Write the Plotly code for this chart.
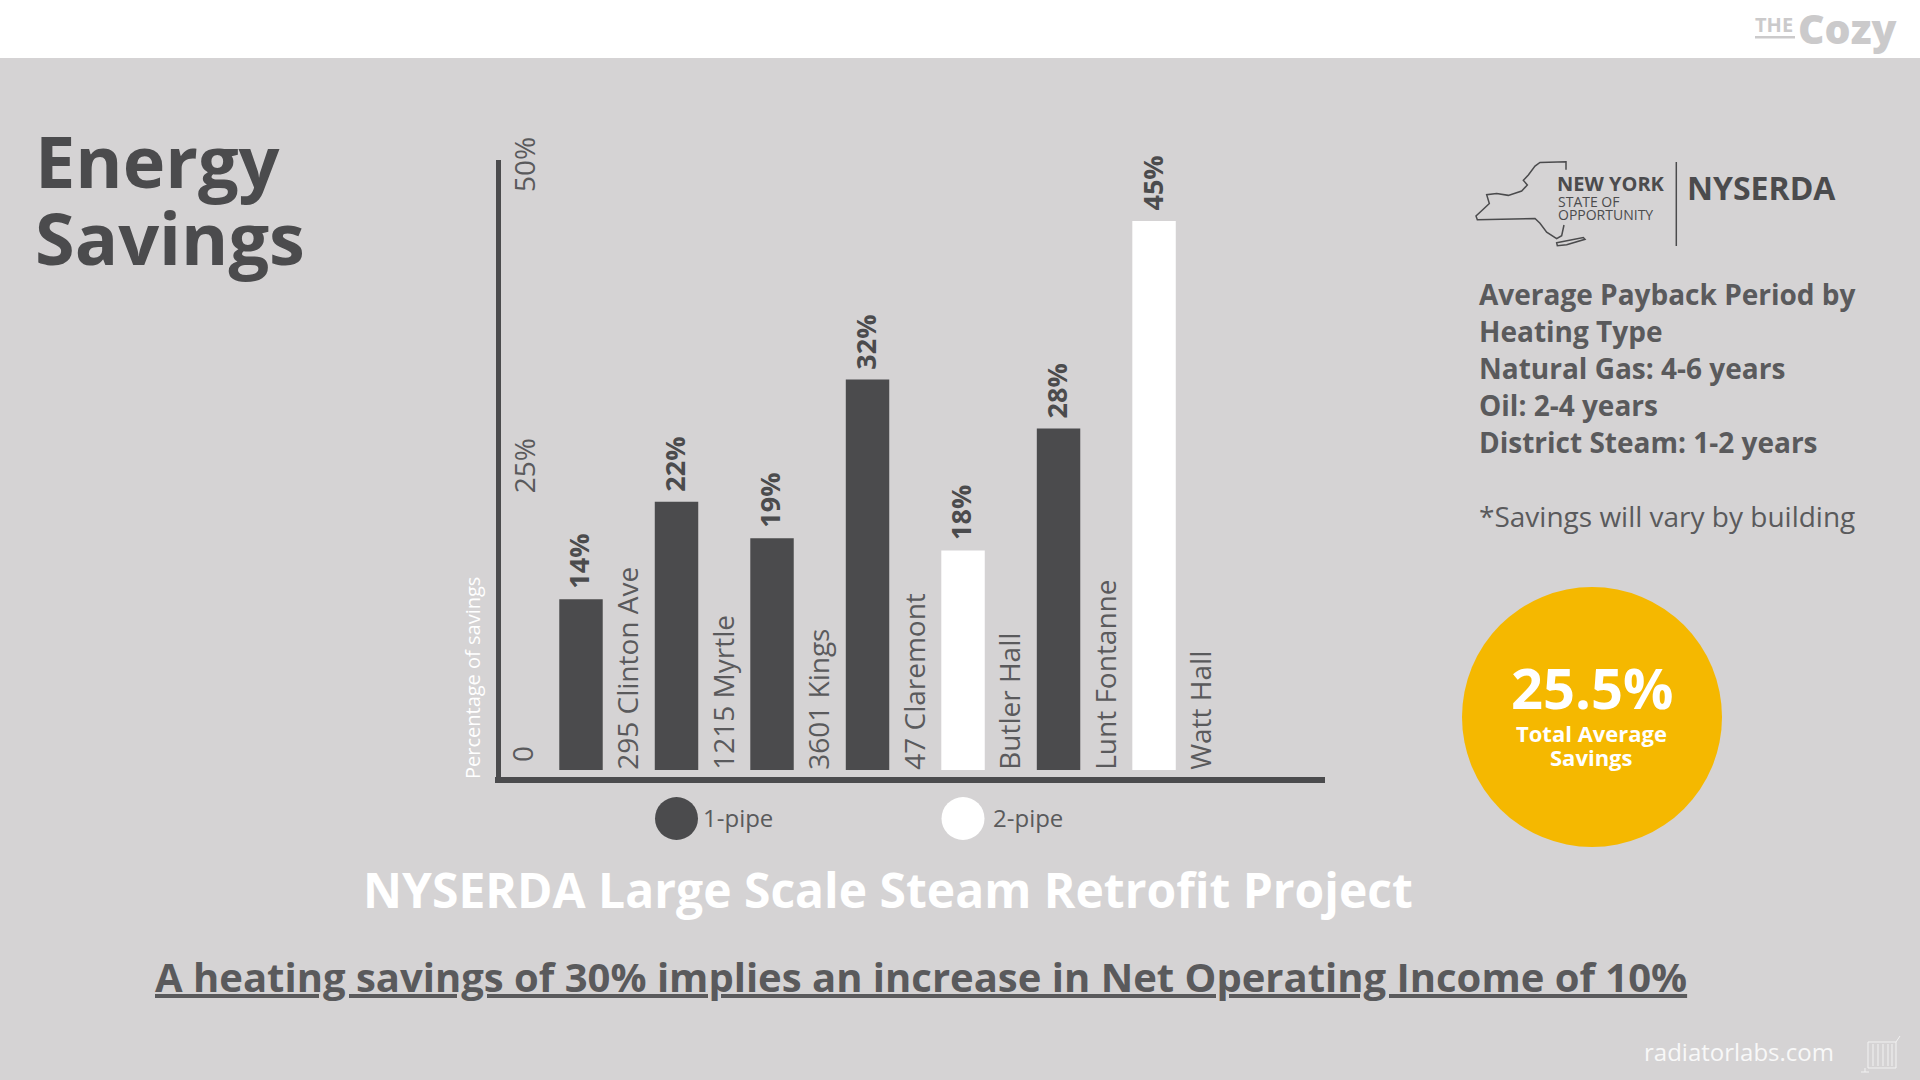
import plotly.graph_objects as go

# ---- chart data ----
categories = ["295 Clinton Ave", "1215 Myrtle", "3601 Kings", "47 Claremont", "Butler Hall", "Lunt Fontanne", "Watt Hall"]
savings = [14, 22, 19, 32, 18, 28, 45]
pipe_type = ["1-pipe", "1-pipe", "1-pipe", "1-pipe", "2-pipe", "1-pipe", "2-pipe"]
y_tick_values = [24.6, 49.3]
y_tick_labels = ["25%", "50%"]
series_names = ["1-pipe", "2-pipe"]
payback_lines = ["Average Payback Period by", "Heating Type", "Natural Gas: 4-6 years", "Oil: 2-4 years", "District Steam: 1-2 years"]

W, H = 1920, 1080
BG, DARK, TEXT, FONT = "#D5D3D4", "#4B4B4D", "#5A5A5C", "Open Sans"
YELLOW = "#F5B800"

def px(x): return x / W
def py(y): return 1 - y / H

fig = go.Figure()
colors = {"1-pipe": DARK, "2-pipe": "#FFFFFF"}
for name in series_names:
    xs = [c for c, p in zip(categories, pipe_type) if p == name]
    ys = [v for v, p in zip(savings, pipe_type) if p == name]
    fig.add_bar(x=xs, y=ys, name=name, width=0.455, marker=dict(color=colors[name], line_width=0), showlegend=False)

annotations, shapes = [], []

# value labels, placed through the data axes
for c, v in zip(categories, savings):
    annotations.append(dict(text=f"<b>{v}%</b>", x=c, y=v, xref="x", yref="y", xanchor="center", yanchor="bottom",
                            showarrow=False, textangle=-90, yshift=9, xshift=-2, borderpad=0,
                            font=dict(family=FONT, size=27, color=DARK)))

def note(text, x, y, size, color=TEXT, bold=False, anchor="left", angle=0, weight=None):
    f = dict(family=FONT, size=size, color=color)
    if weight: f["weight"] = weight
    annotations.append(dict(text=f"<b>{text}</b>" if bold else text, x=px(x), y=py(y), xref="paper", yref="paper",
                            xanchor=anchor, yanchor="middle", showarrow=False, textangle=angle, borderpad=0, font=f))

def shape_px(kind, x0, y0, x1, y1, fill=None, line=None, lw=0):
    shapes.append(dict(type=kind, xref="paper", yref="paper", x0=px(x0), x1=px(x1), y0=py(y0), y1=py(y1),
                       fillcolor=fill, line=dict(color=line, width=lw), layer="below"))

def path_px(points, color, lw, close=False, fill=None):
    d = "M " + " L ".join(f"{px(x):.5f},{py(y):.5f}" for x, y in points) + (" Z" if close else "")
    shapes.append(dict(type="path", xref="paper", yref="paper", path=d, line=dict(color=color, width=lw),
                       fillcolor=fill, layer="below"))

# header band
shape_px("rect", 0, 0, W, 58, fill="#FFFFFF")

# titles
note("Energy", 33.5, 160, 72, color=DARK, bold=True)
note("Savings", 33.5, 237, 72, color=DARK, bold=True)
note("NYSERDA Large Scale Steam Retrofit Project", 888, 889, 48, color="#FFFFFF", bold=True, anchor="center")
note("<u>A heating savings of 30% implies an increase in Net Operating Income of 10%</u>", 921, 976, 40, bold=True, anchor="center")
note("Percentage of savings", 472, 678, 20, color="#FFFFFF", anchor="center", angle=-90)
note("0", 522, 754, 28, anchor="center", angle=-90)

# legend
for cx, name, tx in [(676.5, series_names[0], 702), (963, series_names[1], 992)]:
    shape_px("circle", cx - 21.5, 797, cx + 21.5, 840, fill=colors[name])
    note(name, tx, 817, 24, anchor="left")

# right column
for line, y in zip(payback_lines, [294, 331, 368, 405, 442]):
    note(line, 1478, y, 28, bold=True)
note("*Savings will vary by building", 1478, 516, 28)

# yellow circle
shape_px("circle", 1462, 587, 1722, 847, fill=YELLOW)
note("25.5%", 1591.5, 687, 56, color="#FFFFFF", bold=True, anchor="center")
note("Total Average", 1591, 733, 22, color="#FFFFFF", bold=True, anchor="center")
note("Savings", 1591, 757, 22, color="#FFFFFF", bold=True, anchor="center")

# New York logo
def z2(zx, zy): return (1440 + zx / 3, zy / 2.8)
outline = [(378,475),(378,453),(300,455),(285,465),(265,490),(250,505),(262,518),(245,535),(205,547),(170,542),(140,545),
           (148,570),(125,590),(108,605),(112,615),(285,612),(300,625),(320,650),(350,668),(365,660),(372,630)]
island = [(350,680),(430,665),(435,670),(380,685),(352,688)]
path_px([z2(*p) for p in outline], DARK, 1.5)
path_px([z2(*p) for p in island], DARK, 1.5, close=True)
shape_px("line", 1676.3, 162, 1676.3, 246, line=DARK, lw=1.5)
note("NEW YORK", 1556, 183, 20, color=DARK, bold=True)
note("STATE OF", 1557, 201, 14, color=DARK)
note("OPPORTUNITY", 1557, 214, 14, color=DARK)
note("NYSERDA", 1686, 187, 32, color=DARK, bold=True)

# The Cozy logo
note("THE", 1754, 25, 20, color="#CBCACB", bold=True)
shape_px("rect", 1755, 36, 1795, 38.5, fill="#CBCACB")
note("Cozy", 1797, 28, 41, color="#CBCACB", weight=800)

# footer
note("radiatorlabs.com", 1643, 1051, 24, color="#F8F8F8")
ICON = "#F2F2F2"
shape_px("rect", 1868, 1042, 1896, 1068, line=ICON, lw=1)
for gx in (1873, 1878, 1883, 1888, 1892):
    shape_px("line", gx, 1044, gx, 1066, line=ICON, lw=1)
shape_px("line", 1896, 1042, 1900, 1036, line=ICON, lw=1)
shape_px("line", 1865, 1068, 1865, 1072, line=ICON, lw=1)
shape_px("line", 1861, 1072, 1869, 1072, line=ICON, lw=1)

fig.update_layout(
    width=W, height=H, margin=dict(l=0, r=0, t=0, b=0, autoexpand=False), autosize=False,
    paper_bgcolor=BG, plot_bgcolor="rgba(0,0,0,0)", barmode="overlay",
    font=dict(family=FONT, color=TEXT), annotations=annotations, shapes=shapes,
    xaxis=dict(domain=[px(495), px(1325)], categoryorder="array", categoryarray=categories,
               range=[-0.9005, 7.79], showgrid=False, zeroline=False, showline=True, linecolor=DARK, linewidth=6,
               ticks="", tickangle=-90, ticklabelposition="inside", ticklabelshift=48, ticklabelstandoff=0,
               tickfont=dict(family=FONT, size=28, color=TEXT)),
    yaxis=dict(domain=[py(777), py(160)], range=[-0.57, 50], showgrid=False, zeroline=False, showline=True,
               linecolor=DARK, linewidth=5, ticks="", tickangle=-90, side="right", anchor="free", position=px(498),
               tickvals=y_tick_values, ticktext=y_tick_labels, ticklabelstandoff=0,
               tickfont=dict(family=FONT, size=28, color=TEXT)),
)

fig.write_html("out.html", config={"displayModeBar": False},
               post_script="document.body.style.margin='0';document.documentElement.style.overflow='hidden';")
